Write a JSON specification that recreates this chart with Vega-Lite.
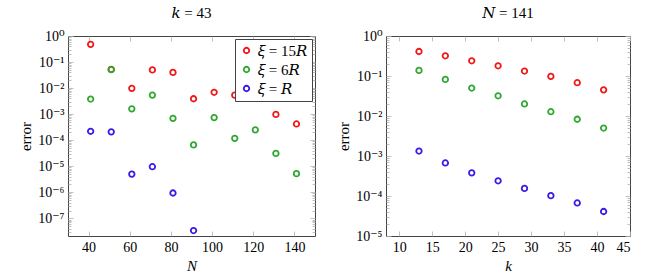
{
  "$schema": "https://vega.github.io/schema/vega-lite/v6.json",
  "padding": {"left": 18, "top": 5, "right": 5, "bottom": 5},
  "datasets": {
    "left": [
      {"N": 41, "error": 0.48, "series": "𝜉 = 15𝑅"},
      {"N": 51, "error": 0.052, "series": "𝜉 = 15𝑅"},
      {"N": 61, "error": 0.0098, "series": "𝜉 = 15𝑅"},
      {"N": 71, "error": 0.05, "series": "𝜉 = 15𝑅"},
      {"N": 81, "error": 0.04, "series": "𝜉 = 15𝑅"},
      {"N": 91, "error": 0.0039, "series": "𝜉 = 15𝑅"},
      {"N": 101, "error": 0.0069, "series": "𝜉 = 15𝑅"},
      {"N": 111, "error": 0.0054, "series": "𝜉 = 15𝑅"},
      {"N": 121, "error": 0.012, "series": "𝜉 = 15𝑅"},
      {"N": 131, "error": 0.00098, "series": "𝜉 = 15𝑅"},
      {"N": 141, "error": 0.00042, "series": "𝜉 = 15𝑅"},
      {"N": 41, "error": 0.0038, "series": "𝜉 = 6𝑅"},
      {"N": 51, "error": 0.051, "series": "𝜉 = 6𝑅"},
      {"N": 61, "error": 0.0016, "series": "𝜉 = 6𝑅"},
      {"N": 71, "error": 0.0054, "series": "𝜉 = 6𝑅"},
      {"N": 81, "error": 0.00069, "series": "𝜉 = 6𝑅"},
      {"N": 91, "error": 0.000066, "series": "𝜉 = 6𝑅"},
      {"N": 101, "error": 0.00074, "series": "𝜉 = 6𝑅"},
      {"N": 111, "error": 0.000118, "series": "𝜉 = 6𝑅"},
      {"N": 121, "error": 0.00025, "series": "𝜉 = 6𝑅"},
      {"N": 131, "error": 0.000031, "series": "𝜉 = 6𝑅"},
      {"N": 141, "error": 0.0000052, "series": "𝜉 = 6𝑅"},
      {"N": 41, "error": 0.00022, "series": "𝜉 = 𝑅"},
      {"N": 51, "error": 0.00021, "series": "𝜉 = 𝑅"},
      {"N": 61, "error": 0.000005, "series": "𝜉 = 𝑅"},
      {"N": 71, "error": 0.0000096, "series": "𝜉 = 𝑅"},
      {"N": 81, "error": 0.00000094, "series": "𝜉 = 𝑅"},
      {"N": 91, "error": 0.000000034, "series": "𝜉 = 𝑅"}
    ],
    "right": [
      {"k": 13, "error": 0.41, "series": "𝜉 = 15𝑅"},
      {"k": 17, "error": 0.32, "series": "𝜉 = 15𝑅"},
      {"k": 21, "error": 0.24, "series": "𝜉 = 15𝑅"},
      {"k": 25, "error": 0.18, "series": "𝜉 = 15𝑅"},
      {"k": 29, "error": 0.133, "series": "𝜉 = 15𝑅"},
      {"k": 33, "error": 0.098, "series": "𝜉 = 15𝑅"},
      {"k": 37, "error": 0.068, "series": "𝜉 = 15𝑅"},
      {"k": 41, "error": 0.045, "series": "𝜉 = 15𝑅"},
      {"k": 13, "error": 0.138, "series": "𝜉 = 6𝑅"},
      {"k": 17, "error": 0.082, "series": "𝜉 = 6𝑅"},
      {"k": 21, "error": 0.05, "series": "𝜉 = 6𝑅"},
      {"k": 25, "error": 0.032, "series": "𝜉 = 6𝑅"},
      {"k": 29, "error": 0.020, "series": "𝜉 = 6𝑅"},
      {"k": 33, "error": 0.0128, "series": "𝜉 = 6𝑅"},
      {"k": 37, "error": 0.0083, "series": "𝜉 = 6𝑅"},
      {"k": 41, "error": 0.005, "series": "𝜉 = 6𝑅"},
      {"k": 13, "error": 0.00133, "series": "𝜉 = 𝑅"},
      {"k": 17, "error": 0.00067, "series": "𝜉 = 𝑅"},
      {"k": 21, "error": 0.00038, "series": "𝜉 = 𝑅"},
      {"k": 25, "error": 0.00024, "series": "𝜉 = 𝑅"},
      {"k": 29, "error": 0.000155, "series": "𝜉 = 𝑅"},
      {"k": 33, "error": 0.000102, "series": "𝜉 = 𝑅"},
      {"k": 37, "error": 0.000067, "series": "𝜉 = 𝑅"},
      {"k": 41, "error": 0.000041, "series": "𝜉 = 𝑅"}
    ]
  },
  "config": {
    "font": "Liberation Serif, DejaVu Serif, serif",
    "view": {"stroke": "#444444", "strokeWidth": 1},
    "axis": {
      "domain": false,
      "grid": false,
      "labelFont": "Liberation Serif, DejaVu Serif, serif",
      "labelFontSize": 14,
      "labelColor": "#000000",
      "titleFont": "Liberation Serif, DejaVu Serif, serif",
      "titleFontSize": 15,
      "titleFontWeight": "normal",
      "titleColor": "#000000",
      "tickColor": "#b0b0b0",
      "tickWidth": 0.8
    },
    "title": {"font": "Liberation Serif, DejaVu Serif, serif", "fontSize": 15, "fontWeight": "normal", "offset": 8},
    "legend": {
      "orient": "top-right",
      "offset": 3,
      "fillColor": "#ffffff",
      "strokeColor": "#444444",
      "padding": 4,
      "labelFont": "Liberation Serif, DejaVu Serif, serif",
      "labelFontSize": 15,
      "symbolSize": 30,
      "symbolStrokeWidth": 1.8,
      "symbolOpacity": 1,
      "rowPadding": 3,
      "symbolType": "circle"
    }
  },
  "spacing": 20,
  "resolve": {"legend": {"color": "independent"}},
  "hconcat": [
    {
      "width": 247,
      "height": 200,
      "title": "𝑘 = 43",
      "data": {"name": "left"},
      "layer": [
        {
          "mark": {"type": "point", "shape": "circle", "filled": false, "size": 30, "strokeWidth": 1.8, "opacity": 1},
          "encoding": {
            "x": {"field": "N", "type": "quantitative", "scale": {"domain": [30, 150], "nice": false},
              "axis": {"title": "N", "titleFontStyle": "italic", "values": [40, 60, 80, 100, 120, 140], "tickSize": -5, "labelPadding": 9}},
            "y": {"field": "error", "type": "quantitative", "scale": {"type": "log", "domain": [2.1e-8, 1], "nice": false},
              "axis": {"title": "error",
                "values": [3e-8,4e-8,5e-8,6e-8,7e-8,8e-8,9e-8,1e-7,2e-7,3e-7,4e-7,5e-7,6e-7,7e-7,8e-7,9e-7,1e-6,2e-6,3e-6,4e-6,5e-6,6e-6,7e-6,8e-6,9e-6,1e-5,2e-5,3e-5,4e-5,5e-5,6e-5,7e-5,8e-5,9e-5,1e-4,2e-4,3e-4,4e-4,5e-4,6e-4,7e-4,8e-4,9e-4,1e-3,2e-3,3e-3,4e-3,5e-3,6e-3,7e-3,8e-3,9e-3,1e-2,2e-2,3e-2,4e-2,5e-2,6e-2,7e-2,8e-2,9e-2,1e-1,2e-1,3e-1,4e-1,5e-1,6e-1,7e-1,8e-1,9e-1,1],
                "tickSize": {"condition": {"test": "abs(log(datum.value)/LN10 - round(log(datum.value)/LN10)) < 0.001", "value": -5}, "value": -3},
                "labelPadding": 9,
                "labelExpr": "abs(log(datum.value)/LN10 - round(log(datum.value)/LN10)) < 0.001 ? '10' + replace(replace(replace(replace(replace(replace(replace(replace(replace(replace(replace(''+round(log(datum.value)/LN10),'-','⁻'),'0','⁰'),'1','¹'),'2','²'),'3','³'),'4','⁴'),'5','⁵'),'6','⁶'),'7','⁷'),'8','⁸'),'9','⁹') : ''"}},
            "color": {"field": "series", "type": "nominal",
              "scale": {"domain": ["𝜉 = 15𝑅", "𝜉 = 6𝑅", "𝜉 = 𝑅"], "range": ["#f01818", "#30a830", "#3a1ae8"]},
              "legend": {"title": null}}
          }
        },
        {
          "mark": {"type": "point", "opacity": 0},
          "encoding": {
            "x": {"field": "N", "type": "quantitative", "axis": {"orient": "top", "title": null, "labels": false, "values": [40, 60, 80, 100, 120, 140], "tickSize": -5}},
            "y": {"field": "error", "type": "quantitative", "scale": {"type": "log"},
              "axis": {"orient": "right", "title": null, "labels": false,
                "values": [3e-8,4e-8,5e-8,6e-8,7e-8,8e-8,9e-8,1e-7,2e-7,3e-7,4e-7,5e-7,6e-7,7e-7,8e-7,9e-7,1e-6,2e-6,3e-6,4e-6,5e-6,6e-6,7e-6,8e-6,9e-6,1e-5,2e-5,3e-5,4e-5,5e-5,6e-5,7e-5,8e-5,9e-5,1e-4,2e-4,3e-4,4e-4,5e-4,6e-4,7e-4,8e-4,9e-4,1e-3,2e-3,3e-3,4e-3,5e-3,6e-3,7e-3,8e-3,9e-3,1e-2,2e-2,3e-2,4e-2,5e-2,6e-2,7e-2,8e-2,9e-2,1e-1,2e-1,3e-1,4e-1,5e-1,6e-1,7e-1,8e-1,9e-1,1],
                "tickSize": {"condition": {"test": "abs(log(datum.value)/LN10 - round(log(datum.value)/LN10)) < 0.001", "value": -5}, "value": -3}}}
          }
        }
      ],
      "resolve": {"axis": {"x": "independent", "y": "independent"}}
    },
    {
      "width": 244,
      "height": 200,
      "title": "𝑁 = 141",
      "data": {"name": "right"},
      "layer": [
        {
          "mark": {"type": "point", "shape": "circle", "filled": false, "size": 30, "strokeWidth": 1.8, "opacity": 1},
          "encoding": {
            "x": {"field": "k", "type": "quantitative", "scale": {"domain": [8, 45], "nice": false},
              "axis": {"title": "k", "titleFontStyle": "italic", "values": [10, 15, 20, 25, 30, 35, 40, 45], "tickSize": -5, "labelPadding": 9}},
            "y": {"field": "error", "type": "quantitative", "scale": {"type": "log", "domain": [1e-5, 1], "nice": false},
              "axis": {"title": "error",
                "values": [1e-5,2e-5,3e-5,4e-5,5e-5,6e-5,7e-5,8e-5,9e-5,1e-4,2e-4,3e-4,4e-4,5e-4,6e-4,7e-4,8e-4,9e-4,1e-3,2e-3,3e-3,4e-3,5e-3,6e-3,7e-3,8e-3,9e-3,1e-2,2e-2,3e-2,4e-2,5e-2,6e-2,7e-2,8e-2,9e-2,1e-1,2e-1,3e-1,4e-1,5e-1,6e-1,7e-1,8e-1,9e-1,1],
                "tickSize": {"condition": {"test": "abs(log(datum.value)/LN10 - round(log(datum.value)/LN10)) < 0.001", "value": -5}, "value": -3},
                "labelPadding": 9,
                "labelExpr": "abs(log(datum.value)/LN10 - round(log(datum.value)/LN10)) < 0.001 ? '10' + replace(replace(replace(replace(replace(replace(replace(replace(replace(replace(replace(''+round(log(datum.value)/LN10),'-','⁻'),'0','⁰'),'1','¹'),'2','²'),'3','³'),'4','⁴'),'5','⁵'),'6','⁶'),'7','⁷'),'8','⁸'),'9','⁹') : ''"}},
            "color": {"field": "series", "type": "nominal",
              "scale": {"domain": ["𝜉 = 15𝑅", "𝜉 = 6𝑅", "𝜉 = 𝑅"], "range": ["#f01818", "#30a830", "#3a1ae8"]},
              "legend": null}
          }
        },
        {
          "mark": {"type": "point", "opacity": 0},
          "encoding": {
            "x": {"field": "k", "type": "quantitative", "axis": {"orient": "top", "title": null, "labels": false, "values": [10, 15, 20, 25, 30, 35, 40, 45], "tickSize": -5}},
            "y": {"field": "error", "type": "quantitative", "scale": {"type": "log"},
              "axis": {"orient": "right", "title": null, "labels": false,
                "values": [1e-5,2e-5,3e-5,4e-5,5e-5,6e-5,7e-5,8e-5,9e-5,1e-4,2e-4,3e-4,4e-4,5e-4,6e-4,7e-4,8e-4,9e-4,1e-3,2e-3,3e-3,4e-3,5e-3,6e-3,7e-3,8e-3,9e-3,1e-2,2e-2,3e-2,4e-2,5e-2,6e-2,7e-2,8e-2,9e-2,1e-1,2e-1,3e-1,4e-1,5e-1,6e-1,7e-1,8e-1,9e-1,1],
                "tickSize": {"condition": {"test": "abs(log(datum.value)/LN10 - round(log(datum.value)/LN10)) < 0.001", "value": -5}, "value": -3}}}
          }
        }
      ],
      "resolve": {"axis": {"x": "independent", "y": "independent"}}
    }
  ]
}
